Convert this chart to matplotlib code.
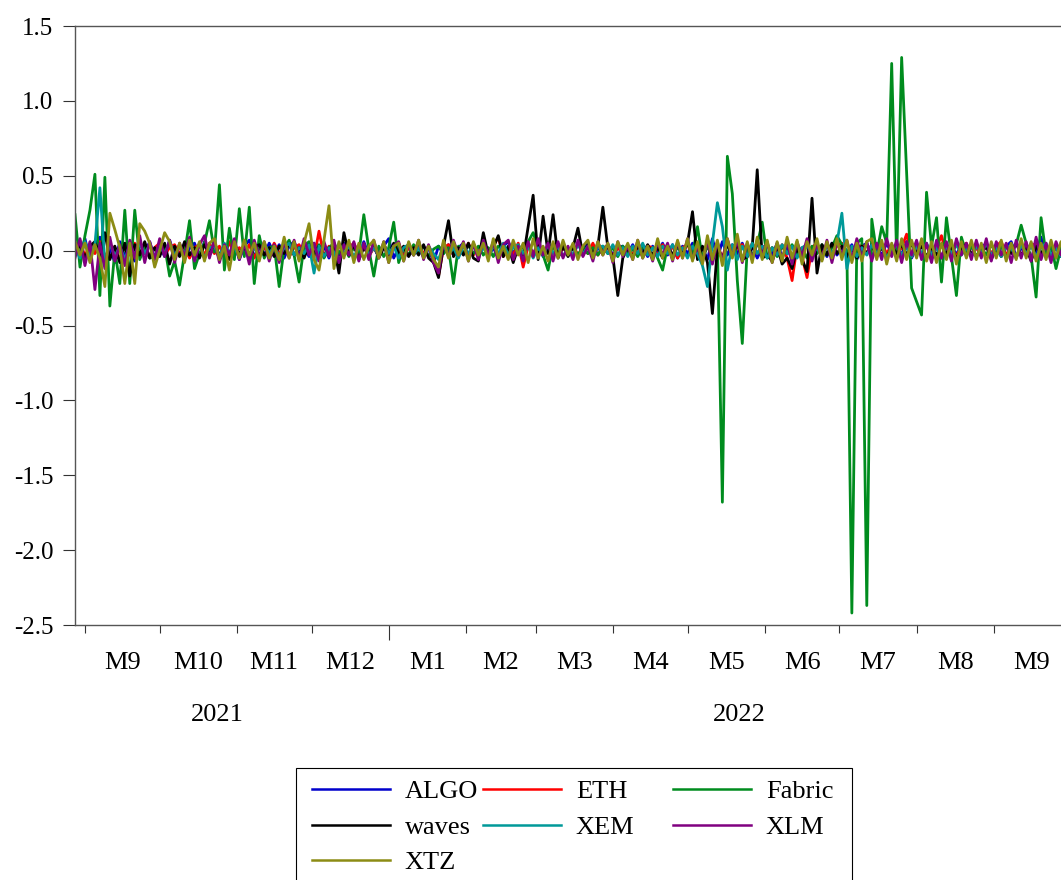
import pandas as pd
import matplotlib
matplotlib.use('Agg')
import matplotlib.pyplot as plt
import matplotlib.transforms as mtransforms
from matplotlib.lines import Line2D
from matplotlib.patches import Rectangle

plt.rcParams['font.family'] = ['Liberation Serif', 'DejaVu Serif']
plt.rcParams['axes.unicode_minus'] = False

# 2-day observations starting 2021-08-28
start_date = '2021-08-28'
step = '2D'

algo = [
    0.05, -0.03, 0.08, -0.06, 0.04, 0.09, -0.05, 0.02, -0.08, 0.06, -0.04, 0.03, -0.07, 0.05, -0.02, 0.06, -0.05, 0.03, -0.04, 0.07,
    -0.03, 0.04, -0.06, 0.02, 0.05, -0.04, 0.06, -0.03, 0.02, -0.05, 0.04, -0.02, 0.05, -0.06, 0.03, 0.07, -0.04, 0.02, -0.03, 0.05,
    -0.02, 0.04, -0.05, 0.03, 0.06, -0.03, 0.02, -0.04, 0.05, -0.02, 0.03, -0.05, 0.04, -0.03, 0.05, -0.02, 0.03, -0.04, 0.06, -0.03,
    0.02, -0.04, 0.03, 0.08, -0.05, 0.02, -0.03, 0.04, -0.02, 0.03, -0.04, 0.02, -0.08, 0.03, -0.02, 0.04, -0.03, 0.02, 0.05, -0.04,
    0.03, -0.02, 0.04, -0.03, 0.02, -0.05, 0.03, 0.06, -0.02, 0.04, -0.03, 0.05, -0.02, 0.03, -0.04, 0.02, 0.04, -0.03, 0.02, -0.02,
    0.03, -0.04, 0.02, 0.05, -0.03, 0.02, -0.02, 0.04, -0.03, 0.02, 0.03, -0.02, 0.04, -0.03, 0.02, -0.04, 0.03, -0.02, 0.05, -0.03,
    0.04, -0.05, 0.03, -0.02, 0.05, -0.04, 0.02, -0.06, 0.08, -0.05, 0.06, -0.03, 0.04, -0.02, 0.05, -0.04, 0.03, -0.05, 0.02, 0.04,
    -0.03, 0.05, -0.04, 0.02, -0.06, 0.03, -0.02, 0.04, -0.05, 0.03, 0.02, -0.04, 0.05, -0.03, 0.02, -0.02, 0.04, -0.06, 0.03, 0.05,
    -0.04, 0.02, -0.03, 0.05, -0.02, 0.04, -0.03, 0.06, -0.05, 0.02, -0.03, 0.04, -0.02, 0.03, -0.05, 0.02, 0.04, -0.03, 0.05, -0.02,
    0.03, -0.04, 0.02, 0.05, -0.03, 0.04, -0.02, 0.03, 0.06, -0.04, 0.02, -0.03, 0.05, -0.02, 0.09, -0.04, 0.03, -0.05, 0.04, -0.02,
]

eth = [
    0.03, 0.07, -0.04, 0.05, -0.02, 0.06, -0.05, 0.03, 0.02, -0.06, 0.04, -0.03, 0.05, -0.02, 0.03, -0.04, 0.02, 0.05, -0.03, 0.02,
    0.04, -0.02, 0.03, -0.05, 0.02, 0.04, -0.03, 0.05, -0.02, 0.03, -0.04, 0.06, -0.03, 0.02, -0.02, 0.04, -0.05, 0.03, 0.02, -0.03,
    0.05, -0.02, 0.03, -0.04, 0.02, 0.04, -0.03, 0.02, -0.05, 0.13, -0.04, 0.03, -0.02, 0.04, -0.03, 0.02, 0.05, -0.02, 0.03, -0.04,
    0.02, -0.03, 0.04, -0.02, 0.03, 0.05, -0.04, 0.02, -0.03, 0.04, -0.02, 0.03, -0.05, -0.17, 0.02, 0.04, -0.03, 0.02, -0.02, 0.05,
    -0.03, 0.02, 0.04, -0.02, 0.03, 0.09, -0.04, 0.02, -0.03, 0.05, -0.11, 0.03, -0.02, 0.04, -0.03, 0.02, 0.03, -0.04, 0.02, -0.02,
    0.04, -0.03, 0.02, -0.02, 0.05, -0.03, 0.02, 0.03, -0.04, 0.02, -0.02, 0.04, -0.03, 0.02, -0.04, 0.03, 0.02, -0.03, 0.04, -0.02,
    0.03, -0.05, 0.02, 0.04, -0.03, 0.02, -0.04, 0.05, -0.06, 0.03, -0.05, 0.07, -0.03, 0.02, 0.04, -0.03, 0.05, -0.02, 0.03, -0.04,
    0.02, -0.03, 0.04, -0.05, -0.20, 0.03, -0.04, -0.18, 0.02, 0.05, -0.03, 0.04, -0.02, 0.03, 0.05, -0.04, 0.02, -0.03, 0.04, -0.02,
    0.03, -0.04, 0.05, -0.02, 0.04, -0.03, 0.02, 0.11, -0.04, 0.03, -0.02, 0.04, -0.05, 0.02, 0.10, -0.03, 0.02, -0.04, 0.03, 0.05,
    -0.03, 0.02, -0.04, 0.05, -0.02, 0.03, 0.06, -0.03, 0.02, -0.05, 0.04, -0.02, 0.03, 0.05, -0.03, 0.02, -0.04, 0.03, 0.02, -0.03,
]

fabric = [
    0.24, -0.11, 0.10, 0.27, 0.51, -0.30, 0.49, -0.37, 0.00, -0.22, 0.27, -0.22, 0.27, -0.06, 0.03, -0.05, -0.04, 0.02, 0.03, -0.17,
    -0.07, -0.23, -0.02, 0.20, -0.12, -0.02, 0.05, 0.20, -0.01, 0.44, -0.13, 0.15, -0.06, 0.28, -0.04, 0.29, -0.22, 0.10, -0.05, 0.02,
    0.03, -0.24, 0.02, 0.07, -0.03, -0.21, 0.03, 0.06, -0.03, 0.04, -0.05, 0.02, 0.05, -0.02, 0.03, -0.04, 0.02, -0.02, 0.24, 0.01,
    -0.17, 0.03, -0.04, 0.02, 0.19, -0.08, 0.02, -0.03, 0.04, -0.02, 0.03, -0.04, 0.01, 0.03, -0.02, 0.02, -0.22, 0.03, -0.02, 0.04,
    -0.02, 0.03, -0.03, 0.02, -0.04, 0.03, 0.01, -0.03, 0.04, -0.02, 0.03, 0.06, 0.12, 0.02, -0.03, -0.13, 0.04, -0.02, 0.03, -0.01,
    0.02, -0.03, 0.03, -0.02, 0.02, -0.03, 0.03, -0.02, 0.02, -0.04, 0.03, -0.02, 0.01, -0.04, 0.03, -0.02, 0.02, -0.05, -0.13, 0.03,
    -0.03, 0.02, -0.02, 0.05, -0.03, 0.16, -0.06, 0.03, -0.04, 0.05, -1.68, 0.63, 0.38, -0.20, -0.62, 0.02, -0.03, 0.04, 0.19, -0.05,
    0.02, -0.04, 0.03, -0.02, 0.04, -0.03, 0.02, -0.05, 0.03, -0.02, 0.04, -0.03, 0.02, 0.10, 0.04, 0.00, -2.42, 0.05, 0.08, -2.37,
    0.21, -0.02, 0.16, 0.05, 1.25, -0.05, 1.29, 0.52, -0.25, -0.34, -0.43, 0.39, 0.03, 0.22, -0.21, 0.22, -0.04, -0.30, 0.09, -0.02,
    0.03, -0.04, 0.02, -0.03, 0.04, -0.02, 0.03, -0.05, 0.02, 0.04, 0.17, 0.05, -0.04, -0.31, 0.22, -0.03, 0.04, -0.12, 0.02, -0.03,
]

waves = [
    -0.02, 0.04, -0.05, 0.03, 0.06, -0.04, 0.12, -0.06, 0.03, -0.08, 0.05, -0.17, 0.04, -0.03, 0.06, -0.05, 0.02, -0.04, 0.05, -0.09,
    0.03, -0.04, 0.06, -0.03, 0.02, -0.05, 0.04, -0.02, 0.05, -0.03, 0.02, -0.06, 0.04, -0.02, 0.03, -0.05, 0.02, 0.04, -0.03, 0.02,
    -0.04, 0.03, -0.02, 0.05, -0.03, 0.02, -0.05, 0.04, -0.02, 0.03, -0.04, 0.02, 0.03, -0.15, 0.12, -0.03, 0.04, -0.06, 0.02, -0.03,
    0.04, -0.05, 0.02, -0.03, 0.05, -0.02, 0.03, -0.04, 0.02, -0.03, 0.04, -0.05, -0.08, -0.18, 0.03, 0.20, -0.04, 0.02, -0.03, 0.05,
    -0.05, -0.07, 0.12, -0.03, 0.02, 0.10, -0.04, 0.03, -0.08, 0.02, -0.05, 0.16, 0.37, -0.06, 0.23, -0.02, 0.24, -0.05, 0.03, -0.04,
    0.02, 0.15, -0.03, 0.04, -0.02, 0.03, 0.29, 0.02, -0.04, -0.30, -0.05, 0.02, -0.04, 0.03, -0.02, 0.04, -0.03, 0.02, -0.05, 0.03,
    -0.03, 0.04, -0.02, 0.05, 0.26, -0.06, 0.03, -0.08, -0.42, 0.02, -0.05, 0.04, -0.03, 0.05, -0.06, -0.04, 0.02, 0.54, -0.05, -0.03,
    -0.07, 0.03, -0.09, -0.05, -0.12, 0.02, -0.06, -0.14, 0.35, -0.15, 0.04, -0.03, 0.05, -0.02, 0.03, -0.04, 0.02, -0.05, 0.03, -0.02,
    0.04, -0.03, 0.02, -0.05, 0.03, -0.02, 0.04, -0.03, 0.05, -0.02, 0.03, -0.04, 0.02, -0.03, 0.04, -0.02, 0.03, -0.06, 0.02, 0.04,
    -0.03, 0.05, -0.02, 0.03, -0.06, 0.02, -0.04, 0.03, -0.02, 0.05, -0.03, 0.02, -0.07, 0.03, -0.02, 0.04, -0.03, 0.02, -0.04, 0.03,
]

xem = [
    0.02, -0.05, 0.06, -0.03, 0.04, 0.42, -0.08, 0.05, -0.04, 0.03, -0.06, 0.04, -0.03, 0.05, -0.02, 0.04, -0.05, 0.03, -0.02, 0.06,
    -0.04, 0.03, -0.02, 0.05, -0.03, 0.04, -0.05, 0.02, 0.03, -0.04, 0.05, -0.02, 0.03, -0.05, 0.04, -0.03, 0.02, -0.04, 0.05, -0.02,
    0.03, -0.04, 0.02, 0.05, -0.03, 0.02, -0.02, 0.04, -0.15, 0.03, -0.04, 0.02, -0.03, 0.05, -0.02, 0.03, -0.04, 0.02, 0.04, -0.03,
    0.02, -0.03, 0.04, -0.02, 0.03, -0.05, 0.02, 0.04, -0.03, 0.02, -0.04, 0.03, -0.02, -0.06, 0.04, -0.03, 0.02, -0.05, 0.03, -0.02,
    0.04, -0.03, 0.02, -0.04, 0.03, -0.02, 0.05, -0.03, 0.02, 0.04, -0.02, 0.03, -0.05, 0.02, -0.03, 0.04, -0.02, 0.03, -0.04, 0.02,
    -0.03, 0.04, -0.02, 0.03, -0.04, 0.02, 0.03, -0.02, 0.04, -0.03, 0.02, -0.04, 0.03, -0.02, 0.05, -0.03, 0.02, -0.04, 0.03, -0.02,
    0.04, -0.03, 0.02, -0.05, 0.03, -0.02, -0.10, -0.24, 0.05, 0.32, 0.16, -0.13, 0.04, -0.06, 0.03, -0.04, 0.05, -0.02, 0.03, -0.05,
    0.02, -0.03, 0.04, -0.02, 0.03, -0.05, 0.02, 0.04, -0.03, 0.02, -0.04, 0.03, -0.02, 0.05, 0.25, -0.12, 0.03, -0.04, 0.02, -0.03,
    0.04, -0.02, 0.03, -0.05, 0.02, 0.04, -0.03, 0.02, -0.04, 0.03, -0.02, 0.05, -0.03, 0.02, -0.04, 0.03, -0.02, 0.04, -0.03, 0.02,
    -0.04, 0.03, -0.02, 0.05, -0.03, 0.02, -0.04, 0.03, 0.02, -0.05, 0.04, -0.02, 0.03, -0.04, 0.02, 0.05, -0.03, 0.02, -0.04, 0.03,
]

xlm = [
    -0.05, 0.08, -0.10, 0.06, -0.26, 0.05, -0.12, 0.09, -0.07, 0.04, -0.10, 0.07, -0.05, 0.10, -0.08, 0.06, -0.06, 0.08, -0.04, 0.07,
    -0.08, 0.05, -0.04, 0.09, -0.07, 0.04, 0.10, -0.05, 0.07, -0.08, 0.04, -0.03, 0.08, -0.06, 0.05, -0.09, 0.07, -0.04, 0.06, -0.07,
    0.04, -0.08, 0.06, -0.05, 0.07, -0.06, 0.08, -0.03, 0.05, -0.07, 0.06, -0.04, 0.07, -0.08, 0.04, -0.03, 0.06, -0.07, 0.05, -0.06,
    0.07, -0.05, 0.06, -0.08, 0.03, 0.06, -0.07, 0.05, -0.03, 0.07, -0.06, 0.04, -0.08, -0.15, 0.06, -0.04, 0.07, -0.03, 0.06, -0.07,
    0.05, -0.06, 0.07, -0.03, 0.06, -0.08, 0.04, 0.07, -0.06, 0.03, -0.07, 0.06, -0.04, 0.08, -0.03, 0.05, -0.07, 0.06, -0.05, 0.03,
    -0.06, 0.07, -0.04, 0.03, -0.07, 0.06, -0.03, 0.05, -0.08, 0.06, -0.04, 0.03, -0.06, 0.07, -0.05, 0.03, -0.07, 0.06, -0.03, 0.05,
    -0.07, 0.06, -0.05, 0.08, -0.06, 0.03, -0.08, 0.07, -0.09, 0.06, -0.07, 0.08, -0.04, 0.07, -0.08, 0.05, -0.06, 0.07, -0.03, 0.06,
    -0.08, 0.05, -0.06, 0.07, -0.09, 0.06, -0.04, 0.08, -0.07, 0.05, -0.06, 0.07, -0.08, 0.06, -0.03, 0.07, -0.06, 0.08, -0.05, 0.06,
    -0.07, 0.05, -0.06, 0.08, -0.04, 0.07, -0.08, 0.06, -0.03, 0.07, -0.06, 0.05, -0.08, 0.07, -0.05, 0.06, -0.07, 0.08, -0.03, 0.05,
    -0.06, 0.07, -0.05, 0.08, -0.07, 0.06, -0.03, 0.05, -0.08, 0.07, -0.05, 0.06, -0.07, 0.09, -0.06, 0.05, -0.08, 0.06, -0.03, 0.07,
]

xtz = [
    0.06, -0.03, 0.05, -0.08, 0.04, -0.05, -0.24, 0.25, 0.14, 0.02, -0.22, 0.05, -0.22, 0.18, 0.13, 0.05, -0.11, 0.00, 0.12, 0.06,
    -0.06, 0.05, -0.08, 0.07, -0.03, 0.06, -0.07, 0.05, 0.08, -0.06, 0.03, -0.13, 0.06, -0.05, 0.07, -0.03, 0.05, -0.07, 0.06, -0.05,
    0.03, -0.06, 0.09, -0.05, 0.06, -0.07, 0.05, 0.18, -0.06, -0.13, 0.07, 0.30, -0.12, 0.06, -0.05, 0.07, -0.08, 0.05, -0.06, 0.03,
    0.07, -0.05, 0.06, -0.08, 0.03, 0.05, -0.07, 0.06, -0.03, 0.07, -0.05, 0.03, -0.06, -0.11, 0.07, -0.05, 0.06, -0.03, 0.05, -0.07,
    0.06, -0.03, 0.05, -0.07, 0.08, -0.05, 0.03, -0.06, 0.07, -0.03, 0.05, -0.08, 0.08, -0.05, 0.03, -0.07, 0.06, -0.05, 0.07, -0.03,
    0.05, -0.06, 0.03, 0.07, -0.05, 0.06, -0.03, 0.05, -0.07, 0.06, -0.03, 0.05, -0.06, 0.07, -0.05, 0.03, -0.06, 0.08, -0.05, 0.03,
    -0.06, 0.07, -0.05, 0.08, -0.07, 0.06, -0.09, 0.10, -0.06, 0.07, -0.10, 0.08, -0.05, 0.11, -0.07, 0.06, -0.08, 0.09, -0.06, 0.07,
    -0.08, 0.06, -0.07, 0.09, -0.05, 0.07, -0.09, 0.06, -0.03, 0.08, -0.07, 0.06, -0.05, 0.08, -0.06, 0.07, -0.08, 0.05, -0.07, 0.06,
    0.08, -0.06, 0.07, -0.09, 0.05, -0.07, 0.08, -0.06, 0.07, -0.05, 0.08, -0.07, 0.06, -0.08, 0.05, -0.06, 0.07, -0.09, 0.06, -0.05,
    0.07, -0.06, 0.05, -0.08, 0.06, -0.05, 0.07, -0.07, 0.05, -0.06, 0.08, -0.05, 0.06, -0.07, 0.05, -0.06, 0.07, -0.05, 0.06, -0.03,
]

names = ['ALGO', 'ETH', 'Fabric', 'waves', 'XEM', 'XLM', 'XTZ']
values = [algo, eth, fabric, waves, xem, xlm, xtz]
colors = ['#0000cc', '#ff0000', '#008c1e', '#000000', '#009999', '#800080', '#8c8c14']

y_ticks = [-2.5, -2.0, -1.5, -1.0, -0.5, 0.0, 0.5, 1.0, 1.5]
month_labels = ['M9', 'M10', 'M11', 'M12', 'M1', 'M2', 'M3', 'M4', 'M5', 'M6', 'M7', 'M8', 'M9']
year_labels = ['2021', '2022']
year_label_dates = ['2021-10-24', '2022-05-22']

dates = pd.date_range(start_date, periods=len(fabric), freq=step)

W, H = 1061, 880
fig = plt.figure(figsize=(W / 100, H / 100), dpi=100)
ax = fig.add_axes([75 / W, 1 - 625 / H, 1 - 75 / W, (625 - 26) / H])

for name, vals, col in zip(names, values, colors):
    ax.plot(dates, vals, color=col, lw=2.0, label=name)

x0 = pd.Timestamp(start_date)
ax.set_xlim(x0, x0 + pd.Timedelta(days=396))
ax.set_ylim(-2.5, 1.5)
ax.set_yticks(y_ticks)
ax.set_yticklabels([f'{v:.1f}' for v in y_ticks], fontsize=18)
ax.tick_params(axis='y', direction='out', length=8.5, width=0.8, pad=7, color='#333333')

# month ticks: short, with a longer one at the year boundary
month_starts = pd.date_range('2021-09-01', '2022-09-01', freq='MS')
ax.set_xticks([d for d in month_starts if d.month != 1])
ax.set_xticks([d for d in month_starts if d.month == 1], minor=True)
ax.set_xticklabels([])
ax.tick_params(axis='x', which='major', direction='out', length=5.8, width=0.8, color='#333333')
ax.tick_params(axis='x', which='minor', direction='out', length=10.8, width=0.8, color='#333333')

trans = mtransforms.blended_transform_factory(ax.transData, ax.transAxes)
for d, lab in zip(month_starts, month_labels):
    mid = d + pd.Timedelta(days=d.days_in_month / 2)
    ax.text(mid, -0.064, lab, transform=trans, ha='center', va='center', fontsize=19)
for d, lab in zip(year_label_dates, year_labels):
    ax.text(pd.Timestamp(d), -0.151, lab, transform=trans, ha='center', va='center', fontsize=19)

for side in ['left', 'top', 'bottom']:
    ax.spines[side].set_color('#555555')
    ax.spines[side].set_linewidth(1.0)
ax.spines['right'].set_visible(False)

# legend: one frameless legend per column inside a shared box, read row by row
fig.patches.append(Rectangle((296 / W, -0.05), (852 - 296) / W, 0.05 + 1 - 768 / H,
                             transform=fig.transFigure, fill=False,
                             edgecolor='black', lw=0.8))
columns = [[0, 3, 6], [1, 4], [2, 5]]
col_x = [312, 483, 673]
for idx, cx in zip(columns, col_x):
    hs = [Line2D([], [], color=colors[k], lw=1.8) for k in idx]
    fig.legend(hs, [names[k] for k in idx], loc='upper left',
               bbox_to_anchor=(cx / W, 1 - 780 / H), fontsize=19,
               frameon=False, handlelength=2.95, handletextpad=0.57,
               labelspacing=0.45, borderpad=0, borderaxespad=0)

fig.savefig('out.png', dpi=100)
